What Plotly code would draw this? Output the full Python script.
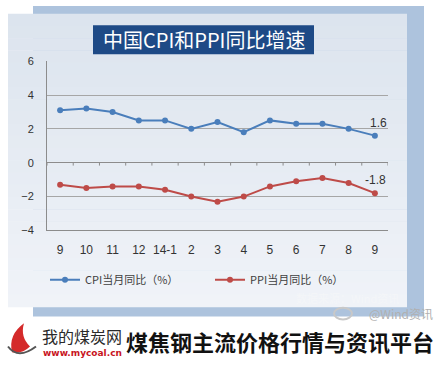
import plotly.graph_objects as go

months = ["9", "10", "11", "12", "14-1", "2", "3", "4", "5", "6", "7", "8", "9"]
cpi = [3.1, 3.2, 3.0, 2.5, 2.5, 2.0, 2.4, 1.8, 2.5, 2.3, 2.3, 2.0, 1.6]
ppi = [-1.3, -1.5, -1.4, -1.4, -1.6, -2.0, -2.3, -2.0, -1.4, -1.1, -0.9, -1.2, -1.8]
y_ticks = [-4, -2, 0, 2, 4, 6]

W, H = 440, 367
def px(x): return x / W
def py(y): return 1 - y / H

FONT = "Noto Sans CJK SC, Liberation Sans, Arial"
CPI_C = "#4a7ebb"
PPI_C = "#be4b48"
xs = list(range(len(months)))

fig = go.Figure()
fig.add_trace(go.Scatter(x=xs, y=cpi, mode="lines+markers",
                         name="CPI当月同比（%）", line=dict(color=CPI_C, width=2),
                         marker=dict(size=6, color=CPI_C)))
fig.add_trace(go.Scatter(x=xs, y=ppi, mode="lines+markers",
                         name="PPI当月同比（%）", line=dict(color=PPI_C, width=2),
                         marker=dict(size=6, color=PPI_C)))

shapes = []
shapes.append(dict(type="rect", xref="paper", yref="paper", x0=px(33), x1=px(424), y0=py(321), y1=py(0),
                   fillcolor="#adc3dd", line=dict(width=0), layer="below"))
top, bot = 8, 311
n = 24
c0 = (220, 228, 238)
c1 = (240, 243, 248)
for i in range(n):
    t = i / (n - 1)
    c = tuple(int(round(c0[k] + (c1[k] - c0[k]) * t)) for k in range(3))
    y0 = top + (bot - top) * i / n
    y1 = top + (bot - top) * (i + 1) / n
    shapes.append(dict(type="rect", xref="paper", yref="paper", x0=px(8), x1=px(407), y0=py(y1 + 0.5), y1=py(y0),
                       fillcolor="rgb(%d,%d,%d)" % c, line=dict(width=0), layer="below"))
shapes.append(dict(type="rect", xref="paper", yref="paper", x0=px(93), x1=px(314), y0=py(50), y1=py(20),
                   fillcolor="#1e4a86", line=dict(width=0), layer="below"))
for i in range(len(months) + 1):
    shapes.append(dict(type="line", xref="x", yref="y", x0=i - 0.5, x1=i - 0.5, y0=0, y1=-0.17,
                       line=dict(color="#8c8c8c", width=1)))
shapes.append(dict(type="circle", xref="paper", yref="paper", x0=px(334), x1=px(352), y0=py(324), y1=py(312),
                   line=dict(color="#c8c8c8", width=2), fillcolor="rgba(0,0,0,0)"))
shapes.append(dict(type="path", xref="paper", yref="paper",
                   path="M %f %f Q %f %f %f %f Q %f %f %f %f Q %f %f %f %f Z" % (
                       px(12), py(358), px(8), py(340), px(24), py(328),
                       px(20), py(342), px(30), py(352), px(22), py(360), px(12), py(358)),
                   fillcolor="#d42a2a", line=dict(width=0)))
shapes.append(dict(type="path", xref="paper", yref="paper",
                   path="M %f %f Q %f %f %f %f" % (px(8), py(352), px(18), py(366), px(36), py(352)),
                   line=dict(color="#555555", width=2)))

annotations = [
    dict(text="中国CPI和PPI同比增速", xref="paper", yref="paper", x=px(203.5), y=py(35), showarrow=False,
         font=dict(family=FONT, size=20, color="white"), xanchor="center", yanchor="middle"),
    dict(text="1.6", xref="x", yref="y", x=xs[-1], y=cpi[-1], showarrow=False,
         xanchor="center", yanchor="bottom", xshift=4, yshift=4,
         font=dict(family="Liberation Sans, Arial", size=12, color="#333333")),
    dict(text="-1.8", xref="x", yref="y", x=xs[-1], y=ppi[-1], showarrow=False,
         xanchor="center", yanchor="bottom", xshift=1, yshift=4,
         font=dict(family="Liberation Sans, Arial", size=12, color="#333333")),
    dict(text="数据来源：Wind资讯", xref="paper", yref="paper", x=px(347), y=py(302), showarrow=False,
         xanchor="center", yanchor="middle", font=dict(family=FONT, size=11, color="#f4f6f9")),
    dict(text="@Wind资讯", xref="paper", yref="paper", x=px(401), y=py(318), showarrow=False,
         xanchor="center", yanchor="middle", font=dict(family=FONT, size=12, color="#b0b0b0")),
    dict(text="我的煤炭网", xref="paper", yref="paper", x=px(40), y=py(341), showarrow=False,
         xanchor="left", yanchor="middle", font=dict(family=FONT, size=16, color="#2a2a2a")),
    dict(text="<b>www.mycoal.cn</b>", xref="paper", yref="paper", x=px(41), y=py(359), showarrow=False,
         xanchor="left", yanchor="middle", font=dict(family="DejaVu Sans, Arial", size=9, color="#c8141e")),
    dict(text="<b>煤焦钢主流价格行情与资讯平台</b>", xref="paper", yref="paper", x=px(280), y=py(346), showarrow=False,
         xanchor="center", yanchor="middle", font=dict(family=FONT, size=22, color="#111111")),
]

fig.update_layout(
    width=W, height=H, margin=dict(l=0, r=0, t=0, b=0),
    paper_bgcolor="white", plot_bgcolor="rgba(0,0,0,0)",
    shapes=shapes, annotations=annotations,
    showlegend=True,
    legend=dict(orientation="h", x=px(45), y=py(283), xanchor="left", yanchor="middle",
                bgcolor="rgba(0,0,0,0)", font=dict(family=FONT, size=11, color="#404040"),
                entrywidth=120, entrywidthmode="pixels", itemwidth=30),
    xaxis=dict(domain=[px(47), px(388)], range=[-0.5, len(months) - 0.5],
               tickmode="array", tickvals=xs, ticktext=months,
               showgrid=False, zeroline=False, showline=True, linecolor="#8c8c8c", linewidth=1,
               ticks="", tickfont=dict(family="Liberation Sans, Arial", size=12, color="#333333"),
               ticklabelstandoff=8, anchor="y"),
    yaxis=dict(domain=[py(232), py(56.5)], range=[-4, 6.03], tickvals=y_ticks,
               showgrid=True, gridcolor="#a6a6a6", gridwidth=1,
               zeroline=True, zerolinecolor="#8c8c8c", zerolinewidth=1,
               showline=True, linecolor="#8c8c8c", linewidth=1,
               ticks="", tickfont=dict(family="Liberation Sans, Arial", size=11, color="#333333"),
               ticklabelstandoff=10, anchor="x"),
)

fig.write_html("out.html", config={"displayModeBar": False})
with open("out.html", encoding="utf-8") as f:
    html = f.read()
html = html.replace("<head>", "<head><style>html,body{margin:0;padding:0;overflow:hidden;}</style>", 1)
with open("out.html", "w", encoding="utf-8") as f:
    f.write(html)
